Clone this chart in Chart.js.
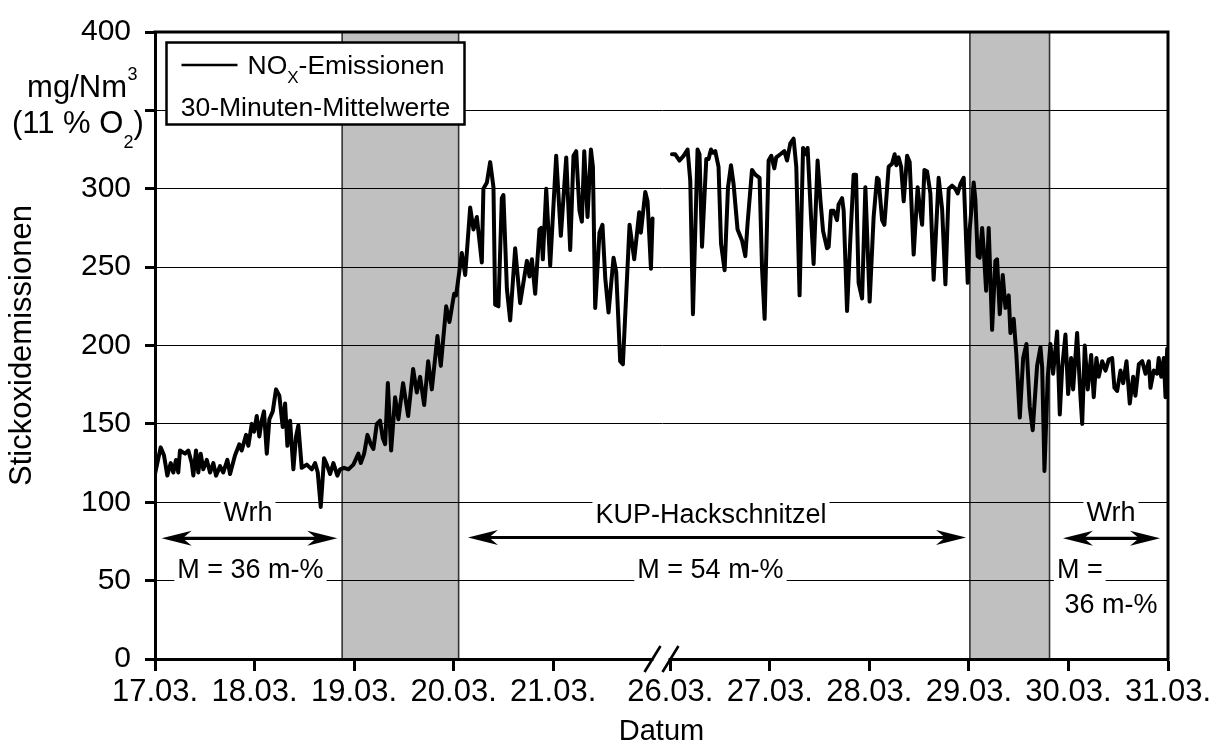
<!DOCTYPE html>
<html>
<head>
<meta charset="utf-8">
<script src="https://cdn.jsdelivr.net/npm/chart.js@4.4.1/dist/chart.umd.min.js"></script>
<style>
html,body{margin:0;padding:0;background:#fff;}
canvas{display:block;}
</style>
</head>
<body>
<canvas id="c" width="1222" height="749"></canvas>
<script>
// ---------------- data ----------------
// x tick positions in days since 17.03. 00:00 and their labels
const tickDays   = [0, 1, 2, 3, 4, 9, 10, 11, 12, 13, 14];
const tickLabels = ['17.03.', '18.03.', '19.03.', '20.03.', '21.03.', '26.03.', '27.03.', '28.03.', '29.03.', '30.03.', '31.03.'];

// NOx, 30-min means, first measuring period (days since 17.03. 00:00)
const daysA = [0,0.057,0.090,0.124,0.158,0.184,0.211,0.234,0.251,0.302,0.335,0.369,0.385,0.412,0.435,0.459,0.485,0.520,0.553,0.586,
  0.613,0.653,0.686,0.727,0.754,0.804,0.847,0.871,0.915,0.938,0.972,0.995,1.022,1.048,1.072,1.095,1.123,1.149,1.183,1.216,
  1.249,1.283,1.307,1.330,1.357,1.390,1.417,1.440,1.474,1.525,1.575,1.608,1.635,1.665,1.698,1.726,1.759,1.792,1.832,1.859,
  1.899,1.943,1.993,2.043,2.067,2.101,2.134,2.168,2.194,2.228,2.261,2.288,2.312,2.339,2.372,2.412,2.445,2.492,2.543,2.593,
  2.630,2.663,2.704,2.744,2.781,2.837,2.871,2.925,2.958,3.005,3.025,3.082,3.116,3.166,3.199,3.233,3.283,3.299,3.334,3.367,
  3.400,3.417,3.450,3.484,3.500,3.535,3.568,3.618,3.668,3.736,3.762,3.786,3.819,3.862,3.879,3.896,3.930,3.970,4.030,4.077,
  4.131,4.171,4.204,4.231,4.264,4.288,4.312,4.345,4.379,4.399,4.422,4.465,4.495,4.523,4.556,4.606,4.633,4.673,4.700,4.767,
  4.814,4.864,4.881,4.925,4.948,4.982,4.998];
const noxA = [118,135,130,117,125,119,127,119,133,131,133,125,117,133,119,131,121,127,119,125,
  117,123,119,127,118,130,137,133,143,136,150,145,155,142,152,158,131,153,158,172,
  168,148,163,136,152,121,142,149,122,124,121,125,119,97,128,124,118,125,117,121,
  122,121,124,131,125,131,143,137,134,150,152,141,137,176,133,167,153,176,155,185,
  170,180,162,190,172,206,187,225,215,233,232,259,245,288,274,282,253,300,304,317,
  301,226,225,294,296,236,216,262,227,254,244,255,233,274,275,255,300,251,321,270,
  320,261,321,324,286,279,324,282,325,314,224,272,277,243,221,256,247,190,188,277,
  255,285,272,298,292,249,281];

// second measuring period (days since 17.03. 00:00, i.e. 26.03. = 9)
const daysB = [9.017,9.050,9.093,9.134,9.174,9.201,9.228,9.274,9.294,9.319,9.362,9.385,9.409,9.429,9.452,9.485,9.510,9.546,9.580,9.610,
  9.636,9.676,9.721,9.754,9.777,9.821,9.854,9.897,9.922,9.948,9.988,10.015,10.045,10.065,10.106,10.146,10.173,10.206,10.239,10.266,
  10.299,10.334,10.357,10.380,10.414,10.440,10.480,10.508,10.535,10.575,10.591,10.615,10.641,10.675,10.691,10.726,10.742,10.776,10.809,10.842,
  10.866,10.892,10.927,10.960,11.003,11.043,11.077,11.093,11.128,11.151,11.194,11.228,11.254,11.271,11.294,11.319,11.345,11.379,11.405,11.445,
  11.485,11.505,11.530,11.553,11.580,11.613,11.646,11.696,11.731,11.764,11.797,11.831,11.864,11.887,11.915,11.948,11.988,12.008,12.048,12.065,
  12.088,12.108,12.133,12.149,12.173,12.199,12.233,12.266,12.283,12.310,12.340,12.367,12.400,12.417,12.450,12.477,12.511,12.545,12.578,12.611,
  12.641,12.685,12.719,12.736,12.759,12.792,12.819,12.846,12.886,12.913,12.937,12.970,12.997,13.027,13.047,13.087,13.121,13.138,13.164,13.194,
  13.228,13.254,13.281,13.304,13.339,13.372,13.405,13.439,13.462,13.489,13.523,13.550,13.583,13.616,13.650,13.673,13.707,13.741,13.774,13.807,
  13.824,13.857,13.891,13.907,13.932,13.958,13.975,13.992];
const noxB = [322,322,318,321,325,305,220,325,322,263,319,319,325,323,324,314,265,248,301,315,
  303,274,267,257,278,312,309,307,249,217,318,321,313,320,322,324,318,329,332,314,
  232,326,322,326,282,252,318,293,273,262,263,286,286,280,290,294,286,222,268,309,
  309,240,230,301,228,282,307,306,280,277,314,316,322,315,320,314,292,321,317,258,
  301,289,277,312,311,297,242,307,287,239,300,302,300,297,303,307,240,274,304,293,
  257,256,275,261,235,275,210,254,255,220,245,224,232,208,217,194,154,192,201,161,
  146,187,199,186,120,180,201,182,209,156,186,207,169,192,172,208,167,150,200,172,
  194,167,192,180,190,184,191,192,173,171,184,176,190,163,180,168,188,190,182,190,
  173,184,182,192,180,192,167,198];

// fuel-change periods (grey bands), days since 17.03. 00:00
const transitionStart = [1.88, 12.01];
const transitionEnd   = [3.05, 12.81];

// y axis (the 350 label is replaced by the unit text)
const yMin = 0, yMax = 400, yStep = 50;
const yHiddenLabels = [350];

// ---------------- broken time axis ----------------
const BREAK_FROM = 5;      // 22.03. 00:00
const BREAK_TO   = 9;      // 26.03. 00:00
const BREAK_GAP  = 0.176;  // drawn width of the break (axis units)
function axisPos(d) { return d <= BREAK_FROM ? d : BREAK_FROM + BREAK_GAP + (d - BREAK_TO); }

// annotations (positions along the drawn axis / in value units)
const notes = [
  {text: 'Wrh',               x: 0.934, v: 88,   align: 'center', box: true},
  {text: 'M = 36 m-%',        x: 0.959, v: 51.5, align: 'center', box: true},
  {text: 'KUP-Hackschnitzel', x: 5.585, v: 86.5, align: 'center', box: true},
  {text: 'M = 54 m-%',        x: 5.580, v: 51.8, align: 'center', box: true},
  {text: 'Wrh',               x: 9.603, v: 88,   align: 'center', box: true},
  {text: 'M =',               x: 9.060, v: 51.5, align: 'left',   box: true},
  {text: '36 m-%',            x: 9.603, v: 29.6, align: 'center', box: false}
];
const arrows = [
  {from: 0.067, to: 1.831, v: 77},
  {from: 3.144, to: 8.147, v: 77.5},
  {from: 9.121, to: 10.096, v: 77}
];

const FONT = '"Liberation Sans", Arial, Helvetica, sans-serif';

const points = daysA.map((d, i) => ({x: axisPos(d), y: noxA[i]}))
  .concat([{x: axisPos(BREAK_FROM) + BREAK_GAP / 2, y: null}])
  .concat(daysB.map((d, i) => ({x: axisPos(d), y: noxB[i]})));

function drawArrow(ctx, x1, x2, yy) {
  const L = 30, W = 7.5, N = 21;
  ctx.lineWidth = 3.2;
  ctx.beginPath(); ctx.moveTo(x1 + 12, yy); ctx.lineTo(x2 - 12, yy); ctx.stroke();
  [[x1, 1], [x2, -1]].forEach(([tx, dir]) => {
    ctx.beginPath();
    ctx.moveTo(tx, yy);
    ctx.lineTo(tx + dir * L, yy - W);
    ctx.lineTo(tx + dir * N, yy);
    ctx.lineTo(tx + dir * L, yy + W);
    ctx.closePath();
    ctx.fill();
  });
}

const decor = {
  id: 'decor',
  beforeDraw(chart) {
    const {ctx, chartArea: a, scales: {x}} = chart;
    ctx.save();
    for (let i = 0; i < transitionStart.length; i++) {
      const x1 = x.getPixelForValue(axisPos(transitionStart[i]));
      const x2 = x.getPixelForValue(axisPos(transitionEnd[i]));
      ctx.fillStyle = '#c0c0c0';
      ctx.fillRect(x1, a.top, x2 - x1, a.bottom - a.top);
      ctx.strokeStyle = '#333';
      ctx.lineWidth = 1.6;
      ctx.beginPath();
      ctx.moveTo(x1, a.top); ctx.lineTo(x1, a.bottom);
      ctx.moveTo(x2, a.top); ctx.lineTo(x2, a.bottom);
      ctx.stroke();
    }
    ctx.restore();
  },
  afterDraw(chart) {
    const {ctx, chartArea: a, scales: {x, y}} = chart;
    ctx.save();
    ctx.strokeStyle = '#000';
    ctx.fillStyle = '#000';
    // top / right frame
    ctx.lineWidth = 3;
    ctx.beginPath();
    ctx.moveTo(a.left - 1.5, a.top); ctx.lineTo(a.right, a.top); ctx.lineTo(a.right, a.bottom + 1.5);
    ctx.stroke();

    // axis break symbol
    const bx = x.getPixelForValue(BREAK_FROM + BREAK_GAP / 2);
    ctx.fillStyle = '#fff';
    ctx.fillRect(bx - 8, a.bottom - 3, 15, 6);
    ctx.lineWidth = 2.6;
    ctx.beginPath();
    ctx.moveTo(bx - 17, a.bottom + 13); ctx.lineTo(bx - 1, a.bottom - 13);
    ctx.moveTo(bx + 1, a.bottom + 13); ctx.lineTo(bx + 17, a.bottom - 13);
    ctx.stroke();

    // notes
    ctx.font = '27px ' + FONT;
    ctx.textBaseline = 'alphabetic';
    ctx.textAlign = 'left';
    notes.forEach(n => {
      const px = x.getPixelForValue(n.x), py = y.getPixelForValue(n.v);
      const w = ctx.measureText(n.text).width;
      const left = n.align === 'left' ? px : px - w / 2;
      if (n.box) { ctx.fillStyle = '#fff'; ctx.fillRect(left - 3, py - 23, w + 6, 28); }
      ctx.fillStyle = '#000';
      ctx.fillText(n.text, left, py);
    });
    // arrows
    ctx.fillStyle = '#000';
    arrows.forEach(r => drawArrow(ctx, x.getPixelForValue(r.from), x.getPixelForValue(r.to), y.getPixelForValue(r.v)));

    // legend
    const lx = a.left + 11.5, ly = a.top + 10.5, lw = 298, lh = 82;
    ctx.fillStyle = '#fff';
    ctx.fillRect(lx, ly, lw, lh);
    ctx.lineWidth = 2.5;
    ctx.strokeRect(lx, ly, lw, lh);
    ctx.lineWidth = 2.6;
    ctx.beginPath(); ctx.moveTo(lx + 15, ly + 22.5); ctx.lineTo(lx + 71, ly + 22.5); ctx.stroke();
    ctx.fillStyle = '#000';
    ctx.font = '26.5px ' + FONT;
    let tx = lx + 81;
    ctx.fillText('NO', tx, ly + 31.5);
    tx += ctx.measureText('NO').width;
    ctx.font = '17px ' + FONT;
    ctx.fillText('X', tx, ly + 40);
    tx += ctx.measureText('X').width;
    ctx.font = '26.5px ' + FONT;
    ctx.fillText('-Emissionen', tx, ly + 31.5);
    ctx.textAlign = 'center';
    ctx.fillText('30-Minuten-Mittelwerte', lx + lw / 2, ly + 73.5);

    // unit text
    ctx.textAlign = 'right';
    ctx.font = '31px ' + FONT;
    ctx.fillText('mg/Nm', 127, 97);
    ctx.textAlign = 'left';
    ctx.font = '18px ' + FONT;
    ctx.fillText('3', 127.5, 80);
    ctx.font = '31px ' + FONT;
    let ux = 12;
    ctx.fillText('(11 % O', ux, 133);
    ux += ctx.measureText('(11 % O').width;
    ctx.font = '18px ' + FONT;
    ctx.fillText('2', ux, 148);
    ux += ctx.measureText('2').width;
    ctx.font = '31px ' + FONT;
    ctx.fillText(')', ux, 133);
    ctx.restore();
  }
};

Chart.defaults.font.family = FONT;
Chart.defaults.color = '#000';

new Chart(document.getElementById('c'), {
  type: 'line',
  data: {
    datasets: [{
      label: 'NOx-Emissionen',
      data: points,
      borderColor: '#000',
      borderWidth: 4,
      pointRadius: 0,
      tension: 0,
      fill: false,
      spanGaps: false,
      borderJoinStyle: 'round',
      borderCapStyle: 'round'
    }]
  },
  options: {
    responsive: false,
    animation: false,
    devicePixelRatio: 1,
    events: [],
    layout: {padding: {left: 0, right: 54, top: 23, bottom: 0}},
    plugins: {legend: {display: false}, tooltip: {enabled: false}},
    scales: {
      x: {
        type: 'linear',
        min: 0,
        max: axisPos(tickDays[tickDays.length - 1]),
        afterBuildTicks: s => { s.ticks = tickDays.map(d => ({value: axisPos(d)})); },
        afterFit: s => { s.height = 90; },
        ticks: {
          autoSkip: false, maxRotation: 0, minRotation: 0, padding: 3,
          font: {size: 31}, color: '#000',
          callback: (v, i) => tickLabels[i]
        },
        grid: {drawOnChartArea: false, drawTicks: true, tickLength: 12, tickWidth: 3, tickColor: '#000'},
        border: {display: true, color: '#000', width: 3},
        title: {display: true, text: 'Datum', font: {size: 29}, color: '#000', padding: {top: 0, bottom: 0}}
      },
      y: {
        min: yMin, max: yMax,
        afterFit: s => { s.width = 155; },
        ticks: {
          stepSize: yStep, padding: 14, font: {size: 30}, color: '#000',
          callback: v => (yHiddenLabels.includes(v) ? '' : String(v))
        },
        grid: {color: '#000', lineWidth: 1, drawTicks: true, tickLength: 10, tickWidth: 3, tickColor: '#000'},
        border: {display: true, color: '#000', width: 3},
        title: {display: true, text: 'Stickoxidemissionen', font: {size: 31}, color: '#000', padding: {top: 4, bottom: 0}}
      }
    }
  },
  plugins: [decor]
});
</script>
</body>
</html>
